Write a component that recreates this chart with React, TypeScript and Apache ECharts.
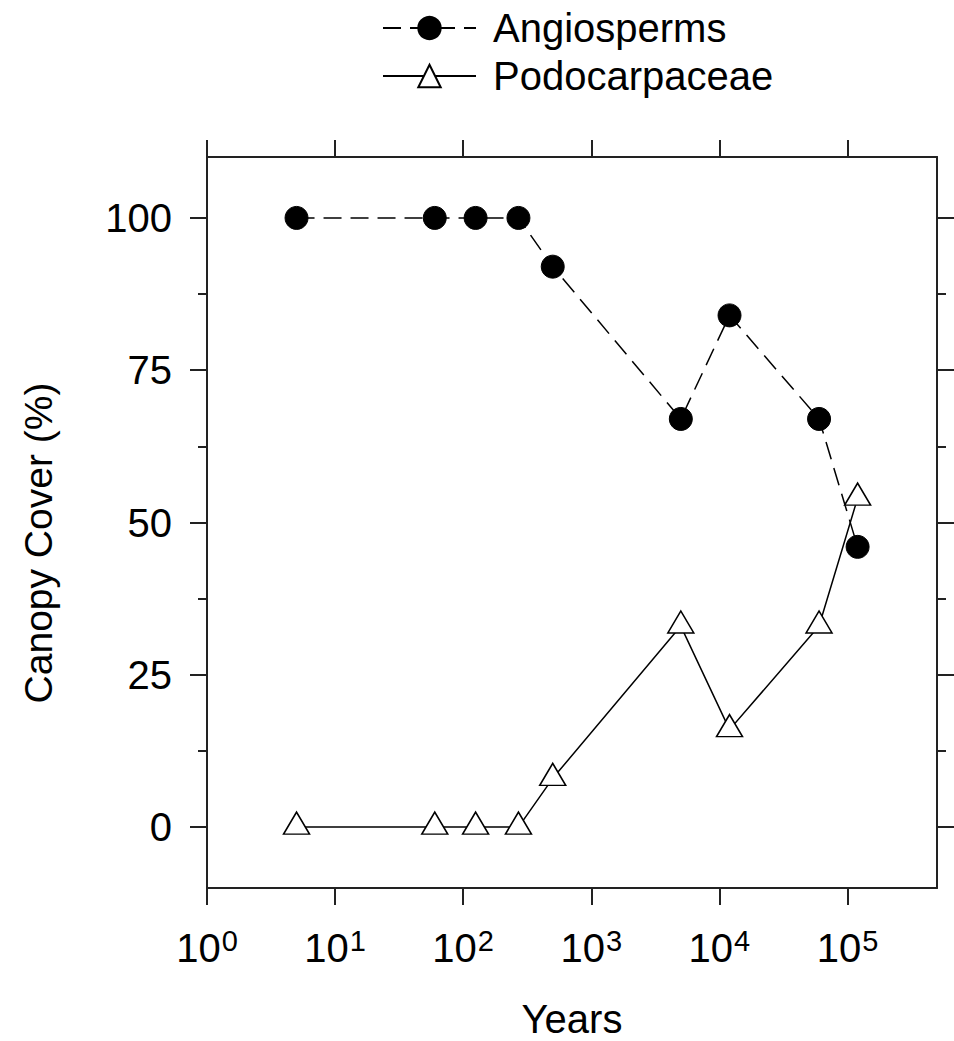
import React, { useEffect, useRef } from "react";
import * as echarts from "echarts";

const years = [5, 60, 125, 270, 500, 5000, 12000, 60000, 120000];
const angiosperms = [100, 100, 100, 100, 92, 67, 84, 67, 46];
const podocarpaceae = [0, 0, 0, 0, 8, 33, 16, 33, 54];
const xTicks = [1, 10, 100, 1000, 10000, 100000];
const yMajorTicks = [0, 25, 50, 75, 100];
const yMinorTicks = [12.5, 37.5, 62.5, 87.5];

const FONT = "Liberation Sans, Arial, sans-serif";

export default function App() {
  const ref = useRef<HTMLDivElement>(null);
  useEffect(() => {
    if (!ref.current) return;
    const chart = echarts.init(ref.current, null, { renderer: "svg" });
    const axisLine = { show: true, onZero: false, lineStyle: { color: "#222", width: 2 } };
    const tickStyle = { color: "#222", width: 2 };
    const xBase = {
      type: "log",
      logBase: 10,
      min: 1,
      max: 500000,
      splitLine: { show: false },
      axisLine,
    };
    const yBase = {
      type: "value",
      min: -10,
      max: 110,
      splitLine: { show: false },
      axisLine,
    };
    chart.setOption({
      animation: false,
      textStyle: { fontFamily: FONT },
      legend: {
        orient: "vertical",
        left: 377,
        top: 3,
        itemWidth: 93,
        itemHeight: 28,
        itemGap: 8,
        textStyle: { fontSize: 40, color: "#000", fontFamily: FONT, padding: [0, 0, 0, 12] },
        data: ["Angiosperms", "Podocarpaceae"],
      },
      grid: { left: 207, top: 157, width: 730, height: 731, containLabel: false, outerBoundsMode: "none" },
      graphic: [
        {
          type: "text",
          x: 38,
          y: 543,
          rotation: Math.PI / 2,
          style: {
            text: "Canopy Cover (%)",
            fontSize: 39,
            fontFamily: FONT,
            fill: "#000",
            align: "center",
            verticalAlign: "middle",
          },
        },
        {
          type: "text",
          x: 572,
          y: 1019,
          style: {
            text: "Years",
            fontSize: 40,
            fontFamily: FONT,
            fill: "#000",
            align: "center",
            verticalAlign: "middle",
          },
        },
      ],
      xAxis: [
        {
          ...xBase,
          position: "bottom",
          axisTick: { show: true, inside: false, length: 17, customValues: xTicks, lineStyle: tickStyle },
          axisLabel: {
            margin: 38,
            customValues: xTicks,
            formatter: (v: number) => "{a|10}{b|" + Math.round(Math.log10(v)) + "}",
            rich: {
              a: { fontSize: 40, color: "#000", fontFamily: FONT },
              b: { fontSize: 29, color: "#000", fontFamily: FONT, padding: [0, 0, 14, 1] },
            },
          },
        },
        {
          ...xBase,
          position: "top",
          axisTick: { show: true, inside: false, length: 17, customValues: xTicks, lineStyle: tickStyle },
          axisLabel: { show: false },
        },
      ],
      yAxis: [
        {
          ...yBase,
          position: "left",
          axisTick: { show: true, length: 17, customValues: yMajorTicks, lineStyle: tickStyle },
          axisLabel: { margin: 35, fontSize: 40, color: "#000", fontFamily: FONT, customValues: yMajorTicks },
        },
        {
          ...yBase,
          position: "left",
          axisLine: { show: false },
          axisTick: { show: true, length: 9, customValues: yMinorTicks, lineStyle: tickStyle },
          axisLabel: { show: false },
        },
        {
          ...yBase,
          position: "right",
          axisTick: { show: true, length: 17, customValues: yMajorTicks, lineStyle: tickStyle },
          axisLabel: { show: false },
        },
        {
          ...yBase,
          position: "right",
          axisLine: { show: false },
          axisTick: { show: true, length: 9, customValues: yMinorTicks, lineStyle: tickStyle },
          axisLabel: { show: false },
        },
      ],
      series: [
        {
          name: "Angiosperms",
          type: "line",
          xAxisIndex: 0,
          yAxisIndex: 0,
          data: years.map((x, i) => [x, angiosperms[i]]),
          symbol: "circle",
          symbolSize: 23,
          itemStyle: { color: "#000", borderColor: "#000", borderWidth: 1 },
          lineStyle: { color: "#000", width: 1.5, type: [18, 9] },
          z: 2,
        },
        {
          name: "Podocarpaceae",
          type: "line",
          xAxisIndex: 0,
          yAxisIndex: 0,
          data: years.map((x, i) => [x, podocarpaceae[i]]),
          symbol: "triangle",
          symbolSize: [26, 22],
          symbolOffset: [0, -4],
          itemStyle: { color: "#fff", borderColor: "#000", borderWidth: 1.5 },
          lineStyle: { color: "#000", width: 1.5, type: "solid" },
          z: 3,
        },
      ],
    });
    return () => chart.dispose();
  }, []);
  return (
    <div
      ref={ref}
      style={{ position: "fixed", left: 0, top: 0, width: 954, height: 1041, background: "#fff" }}
    />
  );
}
